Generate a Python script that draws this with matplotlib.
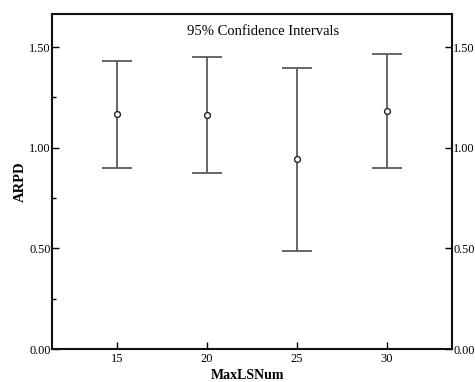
import numpy as np
import matplotlib.pyplot as plt
from matplotlib.ticker import MultipleLocator

plt.rcParams['font.family'] = ['Liberation Serif', 'DejaVu Serif']

# error bar summary per MaxLSNum group
groups = ['15', '20', '25', '30']
means = [1.166, 1.164, 0.942, 1.182]
lower = [0.901, 0.876, 0.488, 0.898]
upper = [1.431, 1.451, 1.398, 1.465]
y_ticks = [0.0, 0.5, 1.0, 1.5]

fig = plt.figure(figsize=(4.75, 3.82), dpi=100)
ax = fig.add_axes([52 / 475, 33 / 382, 400 / 475, 335 / 382])

xpos = np.arange(1, len(groups) + 1)
means = np.array(means)
err = [means - np.array(lower), np.array(upper) - means]

ax.errorbar(xpos, means, yerr=err, fmt='none', ecolor='#5a5a5a',
            elinewidth=1.3, capsize=11, capthick=1.3, zorder=2)
ax.plot(xpos, means, 'o', ms=4.2, mfc='white', mec='#222222', mew=1.0, zorder=3)

ax.set_xlim(1 - 65 / 90, len(groups) + 65 / 90)
ax.set_ylim(0, 1.664)
ax.set_xticks(xpos)
ax.set_xticklabels(groups)
ax.set_yticks(y_ticks)
ax.set_yticklabels(['%.2f' % v for v in y_ticks])
ax.yaxis.set_minor_locator(MultipleLocator(0.25))

ax.tick_params(axis='x', direction='in', length=5, width=1, labelsize=9,
               pad=3, top=False)
ax.tick_params(axis='y', which='major', direction='in', length=5, width=1,
               labelsize=8.8, pad=1, left=True, right=True,
               labelleft=True, labelright=True)
ax.tick_params(axis='y', which='minor', direction='in', length=3, width=1,
               left=True, right=False)

for s in ax.spines.values():
    s.set_linewidth(1.5)
    s.set_color('#111111')

ax.set_xlabel('MaxLSNum', fontsize=10, fontweight='bold')
ax.xaxis.set_label_coords(0.49, -0.061)
ax.set_ylabel('ARPD', fontsize=10.5, fontweight='bold')
ax.yaxis.set_label_coords(-0.064, 0.5)
ax.text(0.527, 0.949, '95% Confidence Intervals', transform=ax.transAxes,
        ha='center', va='center', fontsize=10.5)

fig.savefig('out.png', dpi=100)
